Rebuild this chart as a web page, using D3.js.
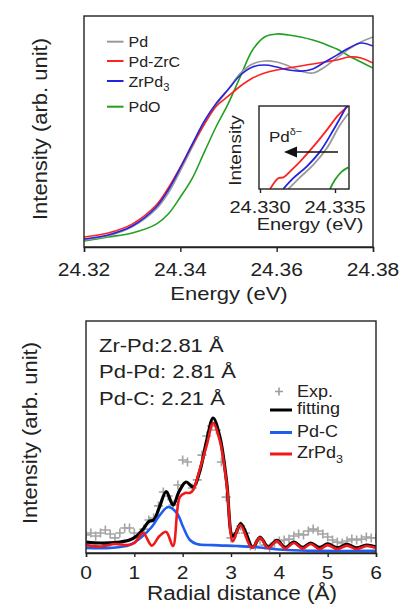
<!DOCTYPE html>
<html>
<head>
<meta charset="utf-8">
<script src="https://cdn.jsdelivr.net/npm/d3@7"></script>
<style>
  body { margin: 0; background: #fff; }
  text { font-family: "Liberation Sans", Arial, sans-serif; fill: #222; }
</style>
</head>
<body>
<div id="vis"></div>
<script>
// ---- XANES (top panel) ----
const energy = [24.320, 24.325, 24.330, 24.335, 24.3375, 24.340, 24.3425, 24.345, 24.3475, 24.350, 24.3525,
  24.355, 24.3575, 24.360, 24.3625, 24.365, 24.3675, 24.370, 24.3725, 24.375, 24.3775, 24.380];
const pd     = [0.039, 0.062, 0.113, 0.214, 0.304, 0.428, 0.563, 0.692, 0.799, 0.889, 0.979, 1.030, 1.047, 1.041, 1.019, 0.990, 0.979, 1.013, 1.064, 1.114, 1.154, 1.182];
const pdZrC  = [0.056, 0.079, 0.129, 0.236, 0.332, 0.450, 0.574, 0.692, 0.793, 0.850, 0.906, 0.951, 0.979, 0.996, 1.007, 1.019, 1.030, 1.041, 1.052, 1.069, 1.064, 1.035];
const zrPd3  = [0.045, 0.068, 0.118, 0.225, 0.321, 0.445, 0.580, 0.709, 0.810, 0.889, 0.968, 1.013, 1.024, 1.013, 0.996, 0.990, 1.002, 1.041, 1.080, 1.120, 1.148, 1.131];
const pdO    = [0.034, 0.056, 0.079, 0.129, 0.186, 0.281, 0.388, 0.535, 0.681, 0.810, 0.962, 1.109, 1.182, 1.199, 1.193, 1.182, 1.165, 1.142, 1.114, 1.075, 1.041, 1.007];
const xanesNames = ['Pd', 'Pd-ZrC', 'ZrPd3', 'PdO'];
const xanesColors = ['#9a9a9a', '#ff2222', '#2424e0', '#22a022'];
const energyTicks = [24.32, 24.34, 24.36, 24.38];

// inset (edge zoom)
const inEnergyPd    = [24.33189, 24.33267, 24.33355, 24.33445, 24.33533, 24.33589];
const inPd          = [0, 0.14, 0.29, 0.49, 0.77, 0.91];
const inEnergyPdZrC = [24.33067, 24.33122, 24.33155, 24.33211, 24.33267, 24.33355, 24.33445, 24.33522, 24.33589];
const inPdZrC       = [0, 0.13, 0.14, 0.23, 0.33, 0.51, 0.71, 0.89, 1.0];
const inEnergyZrPd3 = [24.33155, 24.33222, 24.33311, 24.3340, 24.33489, 24.33578];
const inZrPd3       = [0, 0.13, 0.27, 0.45, 0.71, 1.0];
const inEnergyPdO   = [24.33467, 24.3350, 24.33545, 24.33589];
const inPdO         = [0, 0.11, 0.21, 0.26];
const insetTicks = [24.330, 24.335];

// ---- EXAFS fit (bottom panel) ----
const rExp = [0.0, 0.1, 0.2, 0.3, 0.4, 0.5, 0.6, 0.7, 0.8, 0.9, 1.0, 1.1, 1.2, 1.3, 1.4, 1.5, 1.6, 1.7, 1.8, 1.9,
  2.0, 2.1, 2.2, 2.3, 2.4, 2.5, 2.6, 2.7, 2.8, 2.9, 3.0, 3.1, 3.2, 3.3, 3.4, 3.5, 3.6, 3.7, 3.8, 3.9,
  4.0, 4.1, 4.2, 4.3, 4.4, 4.5, 4.6, 4.7, 4.8, 4.9, 5.0, 5.1, 5.2, 5.3, 5.4, 5.5, 5.6, 5.7, 5.8, 5.9, 6.0];
const expData = [0.78, 0.86, 0.73, 0.86, 0.99, 0.82, 0.65, 0.86, 1.08, 1.08, 0.86, 0.73, 1.03, 1.42, 1.51, 2.03, 2.63, 2.46, 2.07, 2.93,
  4.01, 3.92, 2.80, 3.15, 4.22, 5.04, 5.47, 5.30, 3.92, 2.41, 0.65, 0.86, 1.16, 0.86, 0.30, 0.30, 0.56, 0.34, 0.22, 0.43,
  0.52, 0.56, 0.60, 0.73, 0.82, 0.78, 0.95, 1.03, 0.95, 0.82, 0.69, 0.56, 0.47, 0.43, 0.52, 0.60, 0.56, 0.60, 0.69, 0.65, 0.65];
const rFit = [0.0, 0.3, 0.6, 0.9, 1.05, 1.2, 1.3, 1.4, 1.52, 1.66, 1.8, 1.93, 2.07, 2.22, 2.35, 2.5, 2.63, 2.77, 2.91,
  3.03, 3.1, 3.2, 3.3, 3.45, 3.6, 3.77, 3.95, 4.12, 4.3, 4.48, 4.65, 4.83, 5.0, 5.2, 5.4, 5.6, 5.8, 6.0];
const fitting = [0.47, 0.43, 0.45, 0.56, 0.73, 1.08, 1.36, 1.42, 1.98, 2.65, 2.07, 2.67, 3.06, 2.84, 3.49, 4.87, 5.82, 5.0, 3.06,
  0.73, 0.86, 1.27, 0.91, 0.24, 0.67, 0.26, 0.54, 0.24, 0.47, 0.24, 0.43, 0.24, 0.39, 0.22, 0.37, 0.22, 0.34, 0.26];
const rZr = [0.0, 0.3, 0.6, 0.85, 1.0, 1.18, 1.36, 1.52, 1.66, 1.8, 1.94, 2.05, 2.15, 2.22, 2.35, 2.5, 2.63, 2.77, 2.91,
  3.04, 3.19, 3.43, 3.6, 3.77, 3.95, 4.12, 4.3, 4.48, 4.65, 4.83, 5.0, 5.2, 5.4, 5.6, 5.8, 6.0];
const zrPd3Fit = [0.34, 0.28, 0.39, 0.34, 0.43, 0.86, 0.32, 0.73, 0.91, 0.30, 2.41, 2.59, 2.59, 2.72, 3.58, 4.66, 5.60, 4.83, 2.97,
  0.50, 1.21, 0.22, 0.65, 0.22, 0.52, 0.19, 0.43, 0.19, 0.39, 0.17, 0.34, 0.17, 0.32, 0.17, 0.30, 0.22];
const rPdC = [0.0, 0.5, 0.9, 1.15, 1.36, 1.53, 1.70, 1.88, 2.01, 2.15, 2.29, 2.63, 3.12, 3.46, 4.16, 4.84, 6.0];
const pdCFit = [0.22, 0.22, 0.34, 0.69, 1.12, 1.64, 1.98, 1.72, 1.12, 0.56, 0.39, 0.34, 0.30, 0.26, 0.13, 0.09, 0.09];
const rTicks = [0, 1, 2, 3, 4, 5, 6];
const bondLabels = ['Zr-Pd:2.81 Å', 'Pd-Pd: 2.81 Å', 'Pd-C: 2.21 Å'];

const svg = d3.select('#vis')
  .append('svg')
  .attr('width', 403)
  .attr('height', 605);

// text with squashed glyph height, like the reference
function label(x, y, str, size, opts) {
  opts = opts || {};
  const t = svg.append('text')
    .attr('transform', `translate(${x},${y}) rotate(${opts.rot || 0}) scale(1,${opts.sy || 0.87})`)
    .attr('font-size', size)
    .attr('text-anchor', opts.anchor || 'start');
  return t.text(str);
}

// subscript helper for ZrPd3
function labelSub(x, y, base, sub, size, sy) {
  const t = svg.append('text')
    .attr('transform', `translate(${x},${y}) scale(1,${sy})`)
    .attr('font-size', size);
  t.append('tspan').text(base);
  t.append('tspan').attr('font-size', size * 0.7).attr('dy', size * 0.3).text(sub);
  return t;
}

// ================= top panel =================
const xTop = d3.scaleLinear().domain([24.32, 24.38]).range([84, 373]);
const yTop = d3.scaleLinear().domain([0, 1.3]).range([247, 16]);

svg.append('clipPath').attr('id', 'clipTop')
  .append('rect').attr('x', 84).attr('y', 16).attr('width', 289).attr('height', 231);

const lineTop = d3.line().curve(d3.curveCatmullRom)
  .x(d => xTop(d[0])).y(d => yTop(d[1]));

const xanesSeries = [pd, pdZrC, zrPd3, pdO];
const topLayer = svg.append('g').attr('clip-path', 'url(#clipTop)');
[3, 0, 1, 2].forEach(i => {
  topLayer.append('path')
    .attr('d', lineTop(energy.map((e, j) => [e, xanesSeries[i][j]])))
    .attr('fill', 'none')
    .attr('stroke', xanesColors[i])
    .attr('stroke-width', 1.6);
});

svg.append('rect')
  .attr('x', 84).attr('y', 16).attr('width', 289).attr('height', 231)
  .attr('fill', 'none').attr('stroke', '#222').attr('stroke-width', 1.4);

const axTop = svg.append('g')
  .attr('transform', 'translate(0,247)')
  .call(d3.axisBottom(xTop).tickValues(energyTicks).tickSize(5).tickFormat(''));
axTop.select('.domain').attr('stroke', '#222').attr('stroke-width', 1.4);
axTop.selectAll('.tick line').attr('stroke', '#222').attr('stroke-width', 1.4);

energyTicks.forEach(v => {
  label(xTop(v), 275.5, d3.format('.2f')(v), 21, { anchor: 'middle', sy: 0.88 });
});
label(229, 300, 'Energy (eV)', 22, { anchor: 'middle', sy: 0.86 });
label(46.5, 129, 'Intensity (arb. unit)', 22, { anchor: 'middle', rot: -90, sy: 0.95 });

// legend
const legY = [41.7, 61, 81, 106.7];
xanesNames.forEach((name, i) => {
  svg.append('line')
    .attr('x1', 107).attr('x2', 123.5)
    .attr('y1', legY[i]).attr('y2', legY[i])
    .attr('stroke', xanesColors[i]).attr('stroke-width', 2);
  if (name === 'ZrPd3') {
    labelSub(128.5, legY[i] + 5.5, 'ZrPd', '3', 16, 0.93);
  } else {
    label(128.5, legY[i] + 5.5, name, 16, { sy: 0.93 });
  }
});

// ================= inset =================
const xIn = d3.scaleLinear().domain([24.330, 24.335]).range([260, 335]);
const yIn = d3.scaleLinear().domain([0, 1]).range([189, 106]);

svg.append('rect')
  .attr('x', 259).attr('y', 106).attr('width', 90).attr('height', 83)
  .attr('fill', '#fff');
svg.append('clipPath').attr('id', 'clipIn')
  .append('rect').attr('x', 259).attr('y', 106).attr('width', 90).attr('height', 83);

const lineIn = d3.line().curve(d3.curveCatmullRom)
  .x(d => xIn(d[0])).y(d => yIn(d[1]));
const insetSeries = [
  [inEnergyPd, inPd], [inEnergyPdZrC, inPdZrC], [inEnergyZrPd3, inZrPd3], [inEnergyPdO, inPdO]
];
const inLayer = svg.append('g').attr('clip-path', 'url(#clipIn)');
[0, 1, 2, 3].forEach(i => {
  const s = insetSeries[i];
  inLayer.append('path')
    .attr('d', lineIn(s[0].map((e, j) => [e, s[1][j]])))
    .attr('fill', 'none')
    .attr('stroke', xanesColors[i])
    .attr('stroke-width', 1.8);
});

svg.append('rect')
  .attr('x', 259).attr('y', 106).attr('width', 90).attr('height', 83)
  .attr('fill', 'none').attr('stroke', '#222').attr('stroke-width', 1.4);
const axIn = svg.append('g')
  .attr('transform', 'translate(0,189)')
  .call(d3.axisBottom(xIn).tickValues(insetTicks).tickSize(4).tickFormat(''));
axIn.select('.domain').remove();
axIn.selectAll('.tick line').attr('stroke', '#222').attr('stroke-width', 1.4);

insetTicks.forEach(v => {
  label(xIn(v), 212.5, d3.format('.3f')(v), 20, { anchor: 'middle', sy: 0.87 });
});
label(310, 229.5, 'Energy (eV)', 20, { anchor: 'middle', sy: 0.87 });
label(241, 150.5, 'Intensity', 19, { anchor: 'middle', rot: -90, sy: 0.85 });

// Pd delta- label and arrow
const pdDelta = svg.append('text')
  .attr('transform', 'translate(269,141.5) scale(1,0.9)')
  .attr('font-size', 17);
pdDelta.append('tspan').text('Pd');
pdDelta.append('tspan').attr('font-size', 11).attr('dy', -7).text('δ−');

svg.append('line')
  .attr('x1', 338).attr('x2', 294)
  .attr('y1', 152).attr('y2', 152)
  .attr('stroke', '#111').attr('stroke-width', 1.6);
svg.append('path')
  .attr('d', 'M284,152L297,146.5L297,157.5Z')
  .attr('fill', '#111');

// ================= bottom panel =================
const xBot = d3.scaleLinear().domain([0, 6]).range([86, 376]);
const yBot = d3.scaleLinear().domain([0, 10]).range([553, 321]);

svg.append('clipPath').attr('id', 'clipBot')
  .append('rect').attr('x', 86).attr('y', 321).attr('width', 290).attr('height', 232);

const lineBot = d3.line().curve(d3.curveCatmullRom)
  .x(d => xBot(d[0])).y(d => yBot(d[1]));

const botLayer = svg.append('g').attr('clip-path', 'url(#clipBot)');

// experimental points as plus marks
botLayer.selectAll('.exp')
  .data(rExp.map((r, i) => [r, expData[i]]))
  .enter()
  .append('path')
  .attr('class', 'exp')
  .attr('transform', d => `translate(${xBot(d[0])},${yBot(d[1])})`)
  .attr('d', 'M-4.5,0H4.5M0,-4.5V4.5')
  .attr('stroke', '#a4a4a4')
  .attr('stroke-width', 1.6);

botLayer.append('path')
  .attr('d', lineBot(rFit.map((r, i) => [r, fitting[i]])))
  .attr('fill', 'none').attr('stroke', '#000').attr('stroke-width', 3.2);
botLayer.append('path')
  .attr('d', lineBot(rPdC.map((r, i) => [r, pdCFit[i]])))
  .attr('fill', 'none').attr('stroke', '#1f5cf0').attr('stroke-width', 2.6);
botLayer.append('path')
  .attr('d', lineBot(rZr.map((r, i) => [r, zrPd3Fit[i]])))
  .attr('fill', 'none').attr('stroke', '#f01818').attr('stroke-width', 2.6);

svg.append('rect')
  .attr('x', 86).attr('y', 321).attr('width', 290).attr('height', 232)
  .attr('fill', 'none').attr('stroke', '#222').attr('stroke-width', 1.4);

const axBot = svg.append('g')
  .attr('transform', 'translate(0,553)')
  .call(d3.axisBottom(xBot).tickValues(rTicks).tickSize(4).tickFormat(''));
axBot.select('.domain').attr('stroke', '#222').attr('stroke-width', 1.4);
axBot.selectAll('.tick line').attr('stroke', '#222').attr('stroke-width', 1.4);

rTicks.forEach(v => {
  label(xBot(v), 579, String(v), 21, { anchor: 'middle', sy: 0.88 });
});
label(242, 600, 'Radial distance (Å)', 22.5, { anchor: 'middle', sy: 0.86 });
label(36.5, 433, 'Intensity (arb. unit)', 22, { anchor: 'middle', rot: -90, sy: 0.95 });

// bond length notes
[351.5, 378, 405].forEach((y, i) => {
  label(99, y, bondLabels[i], 22, { sy: 0.8 });
});

// legend
svg.append('path')
  .attr('transform', 'translate(279,391.5)')
  .attr('d', 'M-4,0H4M0,-4V4')
  .attr('stroke', '#9c9c9c').attr('stroke-width', 1.6);
label(297, 396.5, 'Exp.', 18, { sy: 0.87 });

const botLeg = [
  { name: 'fitting', color: '#000', y: 410 },
  { name: 'Pd-C', color: '#1f5cf0', y: 432.5 },
  { name: 'ZrPd3', color: '#f01818', y: 454 }
];
botLeg.forEach(d => {
  svg.append('line')
    .attr('x1', 270).attr('x2', 292)
    .attr('y1', d.y).attr('y2', d.y)
    .attr('stroke', d.color).attr('stroke-width', 3);
  if (d.name === 'ZrPd3') {
    labelSub(297, d.y + 4, 'ZrPd', '3', 18, 0.87);
  } else {
    label(297, d.y + 4, d.name, 18, { sy: 0.87 });
  }
});
</script>
</body>
</html>
